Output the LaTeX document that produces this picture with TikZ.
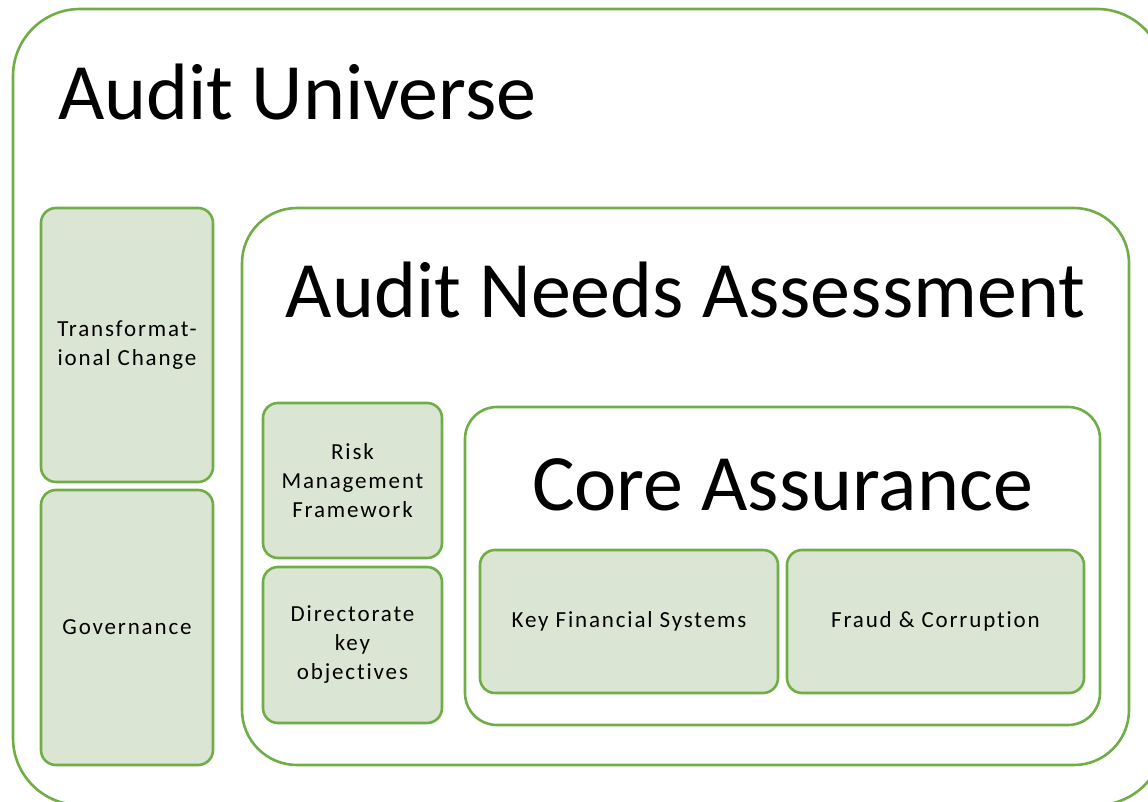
\documentclass[tikz,border=0pt]{standalone}
\usepackage{fontspec}
\setmainfont{Carlito}
\newfontfamily\boxfont[LetterSpace=8, Ligatures={NoCommon, NoRare}]{Carlito}
\usetikzlibrary{positioning}
\definecolor{g1}{HTML}{70AD47}
\definecolor{g2}{HTML}{DAE5D3}

\begin{document}
\begin{tikzpicture}[x=1pt, y=-1pt, line join=round,
    frame/.style={draw=g1, line width=2.6pt},
    box/.style={draw=g1, fill=g2, line width=2.6pt, rounded corners=15pt,
        inner sep=0pt, outer sep=0pt, align=center,
        font=\boxfont\fontsize{23}{29}\selectfont},
    heading/.style={inner sep=0pt, font=\fontsize{80}{90}\selectfont}]

    % page size in px, the outer frame runs off at right and bottom
    \useasboundingbox (0,0) rectangle (1148,802);
    \clip (0,0) rectangle (1148,802);

    % nested frames
    \draw[frame, rounded corners=67pt] (13,9) rectangle (1164,805);
    \draw[frame, rounded corners=55pt] (242,208) rectangle (1129,765);
    \draw[frame, rounded corners=32pt] (465,407) rectangle (1100,725);

    % headings
    \node[heading, anchor=base west] (universe) at (58,120) {Audit Universe};
    \node[heading, anchor=base] (needs) at (685.5,317) {Audit Needs Assessment};
    \node[heading, anchor=base] (core) at (782.5,510) {Core Assurance};

    % left column
    \node[box, minimum width=172, minimum height=274] (trans) at (127,345)
        {Transformat-\\ional Change};
    \node[box, minimum width=172, minimum height=275, below=8pt of trans] (gov)
        {Governance};

    % middle column
    \node[box, minimum width=179, minimum height=155] (risk) at (352.5,480.5)
        {Risk\\Management\\Framework};
    \node[box, minimum width=179, minimum height=156, below=9pt of risk] (dir)
        {Directorate\\key\\objectives};

    % core assurance pair
    \node[box, minimum width=298, minimum height=143] (kfs) at (629,621.5)
        {Key Financial Systems};
    \node[box, minimum width=297, minimum height=143, right=9pt of kfs] (fraud)
        {Fraud \& Corruption};

\end{tikzpicture}
\end{document}
